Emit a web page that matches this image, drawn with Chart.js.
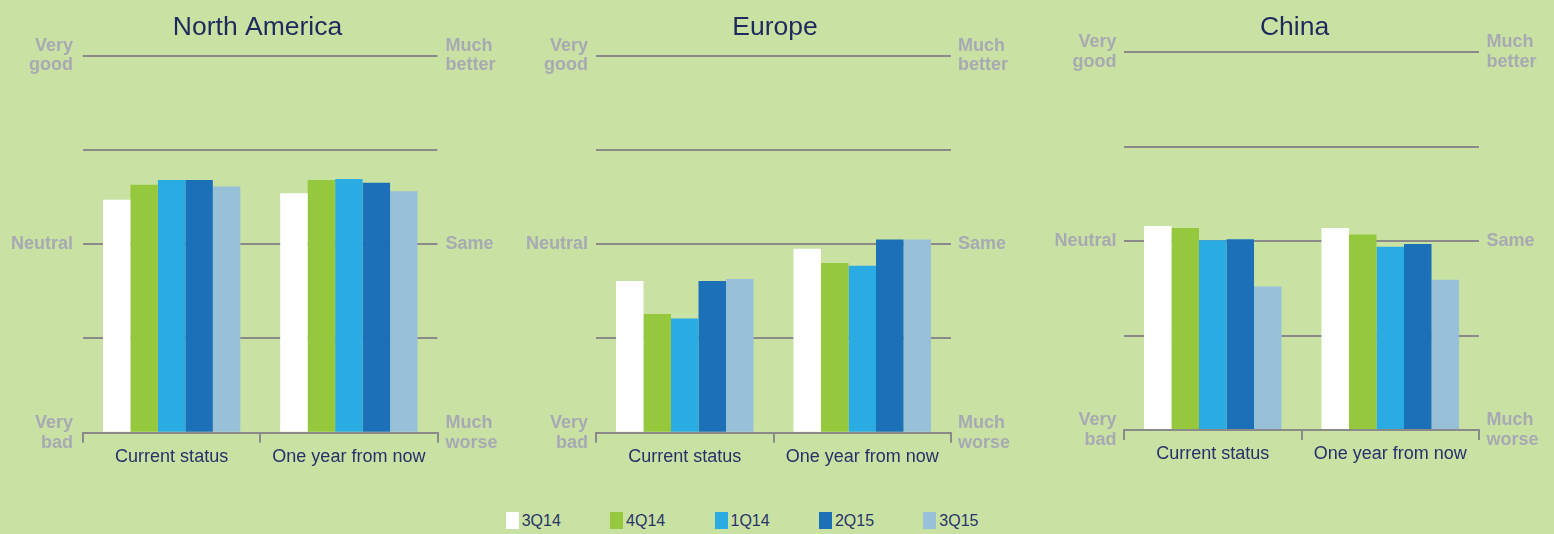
<!DOCTYPE html>
<html><head><meta charset="utf-8">
<script src="https://cdn.jsdelivr.net/npm/chart.js@4.4.1/dist/chart.umd.min.js"></script>
<style>
html,body{margin:0;padding:0;background:#c9e2a3;width:1554px;height:534px;overflow:hidden;}
#wrap{position:relative;width:1554px;height:534px;background:#c9e2a3;}
canvas{position:absolute;top:0;}
#legend{position:absolute;top:512px;left:0;width:1554px;height:18px;font-family:"Liberation Sans",Arial,sans-serif;font-size:16px;color:#28336a;}
.item{position:absolute;top:0;height:17px;display:flex;align-items:center;white-space:nowrap;}
.box{width:13px;height:17px;margin-right:3px;flex:none;}
</style></head>
<body><div id="wrap">
<canvas id="c0"></canvas><canvas id="c1"></canvas><canvas id="c2"></canvas>
<div id="legend"></div></div>
<script>
// ---- data ----
const categories = ['Current status', 'One year from now'];
const seriesNames = ['3Q14', '4Q14', '1Q14', '2Q15', '3Q15'];
const seriesColors = ['#ffffff', '#95c83d', '#2aace2', '#1c70b8', '#98c1d9'];
const regionTitles = ['North America', 'Europe', 'China'];
// scale: 0 = Very bad / Much worse, 2 = Neutral / Same, 4 = Very good / Much better
const northAmericaCurrent = [2.47, 2.63, 2.68, 2.68, 2.61];
const northAmericaOneYear = [2.54, 2.68, 2.69, 2.65, 2.56];
const europeCurrent = [1.61, 1.26, 1.21, 1.61, 1.63];
const europeOneYear = [1.95, 1.80, 1.77, 2.05, 2.05];
const chinaCurrent = [2.16, 2.14, 2.01, 2.02, 1.52];
const chinaOneYear = [2.14, 2.07, 1.94, 1.97, 1.59];
const leftTickLabels = [['Very', 'bad'], '', 'Neutral', '', ['Very', 'good']];
const rightTickLabels = [['Much', 'worse'], '', 'Same', '', ['Much', 'better']];

// ---- layout / style ----
const FAMILY = '"Liberation Sans", Arial, Helvetica, sans-serif';
const GRID = '#8a8a8a';
const NAVY = '#26306a';
const TITLE = '#1f2a5c';
const GREY = '#a7a9b3';
const H = 490;
const layouts = [
  {x: 0,    w: 515, pl: 83,   pr: 437.5, top: 55.5, bottom: 432.7, lpad: 10, rpad: 8},
  {x: 515,  w: 520, pl: 596,  pr: 951,   top: 55.5, bottom: 432.7, lpad: 8,  rpad: 7},
  {x: 1035, w: 519, pl: 1124, pr: 1479,  top: 52.3, bottom: 430,   lpad: 7.5, rpad: 7.5}
];
const regionData = [
  [northAmericaCurrent, northAmericaOneYear],
  [europeCurrent, europeOneYear],
  [chinaCurrent, chinaOneYear]
];

function makeChart(idx) {
  const L = layouts[idx];
  const [current, oneYear] = regionData[idx];
  const canvas = document.getElementById('c' + idx);
  canvas.width = L.w; canvas.height = H;
  canvas.style.left = L.x + 'px';
  canvas.style.width = L.w + 'px'; canvas.style.height = H + 'px';
  const titleSize = 26.5, titleLH = 1.2, titleTop = 12;
  new Chart(canvas, {
    type: 'bar',
    data: {
      labels: categories,
      datasets: seriesNames.map((name, i) => ({
        label: name,
        data: [current[i], oneYear[i]],
        backgroundColor: seriesColors[i],
        borderWidth: 0,
        categoryPercentage: 0.775,
        barPercentage: 1.0,
        yAxisID: 'y'
      }))
    },
    options: {
      responsive: false, animation: false, devicePixelRatio: 1,
      layout: {padding: 0},
      plugins: {
        legend: {display: false},
        tooltip: {enabled: false},
        title: {
          display: true, text: regionTitles[idx], color: TITLE,
          font: {family: FAMILY, size: titleSize, weight: 'normal', lineHeight: titleLH},
          padding: {top: titleTop, bottom: L.top - titleTop - titleSize * titleLH}
        }
      },
      scales: {
        x: {
          offset: true,
          grid: {display: true, drawOnChartArea: false, drawTicks: true, tickLength: 10, offset: true, color: GRID, lineWidth: 2},
          border: {display: true, color: GRID, width: 2},
          ticks: {color: NAVY, font: {family: FAMILY, size: 18}, padding: 3.5, maxRotation: 0, autoSkip: false},
          afterFit: s => { s.height = H - L.bottom; }
        },
        y: {
          position: 'left', min: 0, max: 4,
          ticks: {stepSize: 1, autoSkip: false, callback: v => leftTickLabels[v], color: GREY,
                  font: {family: FAMILY, size: 18, weight: 'bold', lineHeight: 1.1}, padding: L.lpad},
          grid: {color: GRID, lineWidth: 2, drawTicks: false},
          border: {display: false},
          afterFit: s => { s.width = L.pl - L.x; }
        },
        y1: {
          position: 'right', min: 0, max: 4,
          ticks: {stepSize: 1, autoSkip: false, callback: v => rightTickLabels[v], color: GREY,
                  font: {family: FAMILY, size: 18, weight: 'bold', lineHeight: 1.1}, padding: L.rpad},
          grid: {display: false, drawTicks: false},
          border: {display: false},
          afterFit: s => { s.width = L.x + L.w - L.pr; }
        }
      }
    }
  });
}
[0, 1, 2].forEach(makeChart);

// legend
const legend = document.getElementById('legend');
seriesNames.forEach((name, i) => {
  const item = document.createElement('div');
  item.className = 'item';
  item.style.left = (505.7 + i * 104.4) + 'px';
  const box = document.createElement('span');
  box.className = 'box';
  box.style.background = seriesColors[i];
  const txt = document.createElement('span');
  txt.textContent = name;
  item.appendChild(box); item.appendChild(txt);
  legend.appendChild(item);
});
</script>
</body></html>
